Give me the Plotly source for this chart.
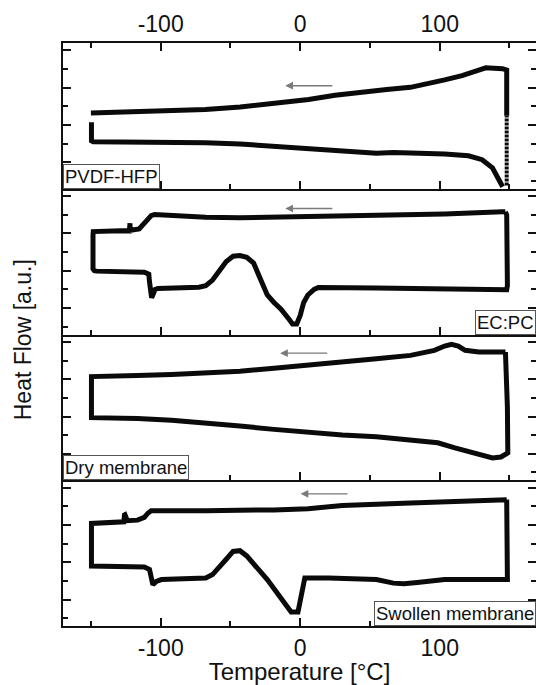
import plotly.graph_objects as go

# ---------------- data (Temperature in °C, heat flow in a.u.) ----------------
# Panel 1: PVDF-HFP
pvdf_cool_T = [148, 148, 145, 138, 133, 128, 116, 103.5, 91.3, 79, 62, 50, 40, 25, 6, -19, -43, -68, -92, -117, -150]
pvdf_cool_H = [3.5, 5.95, 6.02, 6.07, 6.07, 5.95, 5.65, 5.42, 5.2, 5.02, 4.9, 4.82, 4.75, 4.6, 4.37, 4.16, 3.97, 3.83, 3.76, 3.71, 3.64]
pvdf_heat_T = [-149.6, -149.6, -148.4, -116.6, -92.1, -67.7, -43.2, -18.8, 5.7, 30.2, 44.8, 54.6, 66.8, 79.1, 103.5, 120.6, 130.4, 137.8, 142.7, 145.1]
pvdf_heat_H = [3.15, 2.15, 2.10, 2.10, 2.08, 2.05, 1.98, 1.87, 1.77, 1.66, 1.58, 1.49, 1.52, 1.51, 1.45, 1.35, 1.14, 0.70, 0.09, -0.31]
pvdf_iso_T = [148, 148]
pvdf_iso_H = [-0.25, 3.5]

# Panel 2: EC:PC
ecpc_T = [147, 145, 103.5, 54.6, 5.7, -18.8, -43.2, -67.7, -92.1, -104.4, -106.8, -109.2, -111.7, -115.4,
          -121.8, -122.0, -122.4, -128.8, -141, -148.3, -148.5, -148.5, -147.5,
          -146, -111.7, -108.5, -108, -107.5, -106.5, -105, -104, -102, -72.6, -67.7, -62.8, -53, -48.1,
          -43.2, -38.3, -33.4, -28.5, -23.6, -18.8, -13.9, -8, -5.5, -2.5, 0, 2.5, 5.5, 10, 13,
          54.6, 103.5, 148, 148.5, 148, 147]
ecpc_H = [6.16, 6.16, 6.05, 5.96, 5.87, 5.84, 5.84, 5.87, 5.96, 6.02, 5.96, 5.75, 5.48, 5.24,
          5.17, 5.55, 5.14, 5.15, 5.12, 5.10, 4.9, 3.1, 3.0,
          2.98, 2.92, 2.82, 2.4, 1.75, 1.55, 1.8, 2.0, 2.05, 2.12, 2.2, 2.5, 3.5, 3.78,
          3.82, 3.72, 3.41, 2.6, 1.7, 1.3, 0.95, 0.4, 0.15, 0.15, 0.6, 1.3, 1.7, 2.0, 2.1,
          2.07, 2.01, 1.98, 2.2, 6.0, 6.16]

# Panel 3: Dry membrane
dry_T = [147.1, 128, 118.2, 113.3, 108.4, 103.5, 96.2, 79.1, 54.6, 30.2, 5.7, -18.8, -43.2, -67.7, -92.1, -116.6, -149.6,
         -149.6, -145.9, -116.6, -92.1, -67.7, -43.2, -18.8, 5.7, 30.2, 54.6, 79.1, 98.6, 110.9, 123.1, 137.8, 143.9,
         148.8, 148.5, 147.1]
dry_H = [6.46, 6.46, 6.55, 6.78, 6.87, 6.78, 6.55, 6.28, 6.10, 5.95, 5.77, 5.59, 5.43, 5.32, 5.25, 5.20, 5.14,
         2.94, 2.94, 2.89, 2.80, 2.67, 2.49, 2.31, 2.13, 2.01, 1.92, 1.77, 1.59, 1.32, 1.05, 0.78, 0.83,
         1.05, 3.5, 6.46]

# Panel 4: Swollen membrane
swol_T = [148, 128, 79.1, 30.2, 22.8, 8.1, 5.7, -18.8, -43.2, -67.7, -92.1, -106.8, -109.2, -111.7, -116.6,
          -123.9, -125.6, -125.9, -126.4, -141, -149.6, -149.6, -148.4,
          -111.7, -108, -106.8, -105.6, -103.1, -99.5, -67.7, -62.8, -53, -48.1, -43.2, -38.3, -23.6, -13.9,
          -6.5, -1.6, 0.8, 3.3, 20.4, 54.6, 66.8, 74.2, 84, 103.5, 148.5, 148.5, 148]
swol_H = [6.36, 6.32, 6.18, 6.05, 6.0, 5.85, 5.87, 5.81, 5.77, 5.77, 5.76, 5.76, 5.63, 5.41, 5.26,
          5.23, 5.55, 5.54, 5.17, 5.12, 5.08, 2.80, 2.80,
          2.74, 2.61, 1.97, 1.79, 1.97, 2.07, 2.16, 2.34, 3.16, 3.58, 3.62, 3.34, 2.07, 1.06,
          0.33, 0.33, 1.24, 2.16, 2.16, 2.07, 1.88, 1.85, 1.92, 2.07, 2.07, 4.0, 6.36]

panel_labels = ["PVDF-HFP", "EC:PC", "Dry membrane", "Swollen membrane"]
# arrows: (tail T, head T, level H)
arrow_tail_T = [24.1, 24.1, 20.4, 35.0]
arrow_head_T = [-10.7, -10.7, -14.4, 0.3]
arrow_H = [5.11, 6.34, 6.40, 6.67]

x_ticks = [-100, 0, 100]
x_tick_text = ["-100", "0", "100"]

# ---------------- figure ----------------
LINE = dict(color="#0a0a0a", width=5)
FONT = "Arial, Liberation Sans, Helvetica, sans-serif"
XR = [-170, 169]
YR = [-0.42, 7.4]
TK = "#111"

fig = go.Figure()
fig.add_trace(go.Scatter(x=pvdf_cool_T, y=pvdf_cool_H, mode="lines", line=LINE, xaxis="x", yaxis="y"))
fig.add_trace(go.Scatter(x=pvdf_heat_T, y=pvdf_heat_H, mode="lines", line=LINE, xaxis="x", yaxis="y"))
fig.add_trace(go.Scatter(x=pvdf_iso_T, y=pvdf_iso_H, mode="lines",
                         line=dict(color="#0a0a0a", width=4, dash="3px,1px"), xaxis="x", yaxis="y"))
fig.add_trace(go.Scatter(x=ecpc_T, y=ecpc_H, mode="lines", line=LINE, xaxis="x2", yaxis="y2"))
fig.add_trace(go.Scatter(x=dry_T, y=dry_H, mode="lines", line=LINE, xaxis="x3", yaxis="y3"))
fig.add_trace(go.Scatter(x=swol_T, y=swol_H, mode="lines", line=LINE, xaxis="x4", yaxis="y4"))

domains = [[0.75, 1.0], [0.5, 0.75], [0.25, 0.5], [0.0, 0.25]]
layout = dict(
    width=536, height=685, autosize=False,
    margin=dict(l=63, r=0, t=43, b=59),
    paper_bgcolor="white", plot_bgcolor="white",
    showlegend=False,
    font=dict(family=FONT, color="#111", size=22),
)

minor_x = dict(dtick=50, tick0=0, ticklen=5, ticks="inside", tickcolor=TK, tickwidth=1.5)
minor_y = dict(dtick=1, tick0=0, ticklen=5, ticks="inside", tickcolor=TK, tickwidth=1.5)
axis_common = dict(showgrid=False, zeroline=False, showline=True, linecolor=TK, linewidth=1.8,
                   ticks="inside", tickcolor=TK, tickwidth=1.5)
for i in range(4):
    n = "" if i == 0 else str(i + 1)
    xa = dict(axis_common, range=XR, anchor="y" + n, domain=[0, 1],
              tickvals=x_ticks, ticktext=x_tick_text, ticklen=8, minor=minor_x,
              showticklabels=(i == 3), tickfont=dict(size=23, family=FONT))
    if i == 3:
        xa["title"] = dict(text="Temperature [°C]", font=dict(size=24, family=FONT), standoff=2)
    layout["xaxis" + n] = xa
    layout["yaxis" + n] = dict(axis_common, range=YR, domain=domains[i], anchor="x" + n,
                               tick0=1, dtick=2, ticklen=8, showticklabels=False, minor=minor_y)
    # right-side ticks (frame line is beyond the visible page)
    layout["yaxis" + str(i + 5)] = dict(range=YR, overlaying="y" + n, side="right", anchor="x" + n,
                                        showline=False, showgrid=False, zeroline=False,
                                        ticks="inside", tickcolor=TK, tickwidth=1.5,
                                        tick0=1, dtick=2, ticklen=8, showticklabels=False,
                                        minor=minor_y)
# top axis with labels
layout["xaxis5"] = dict(axis_common, range=XR, overlaying="x", anchor="y", side="top",
                        tickvals=x_ticks, ticktext=x_tick_text, ticklen=8, minor=minor_x,
                        showticklabels=True, tickfont=dict(size=23, family=FONT))
fig.update_layout(**layout)
# dummy traces to activate overlay axes
fig.add_trace(go.Scatter(x=[None], y=[None], xaxis="x5", yaxis="y", showlegend=False))
for i in range(4):
    n = "" if i == 0 else str(i + 1)
    fig.add_trace(go.Scatter(x=[None], y=[None], xaxis="x" + n, yaxis="y" + str(i + 5), showlegend=False))

ann = []
label_pos = [(0, "left"), (1, "right"), (0, "left"), (1, "right")]
for i, lab in enumerate(panel_labels):
    n = "" if i == 0 else str(i + 1)
    xp, xanc = label_pos[i]
    ann.append(dict(text=lab, xref="x" + n + " domain", yref="y" + n + " domain", x=xp, y=0,
                    xanchor=xanc, yanchor="bottom", showarrow=False,
                    font=dict(size=18.5, family=FONT, color="#111"),
                    bgcolor="white", bordercolor="#555", borderwidth=1, borderpad=1))
    ann.append(dict(x=arrow_head_T[i], y=arrow_H[i], ax=arrow_tail_T[i], ay=arrow_H[i],
                    xref="x" + n, yref="y" + n, axref="x" + n, ayref="y" + n,
                    showarrow=True, arrowhead=2, arrowsize=1.1, arrowwidth=1.4,
                    arrowcolor="#7a7a7a", text=""))
ann.append(dict(text="Heat Flow [a.u.]", xref="paper", yref="paper", x=-0.0856, y=0.491,
                textangle=-90, showarrow=False, xanchor="center", yanchor="middle",
                font=dict(size=23, family=FONT, color="#111")))
fig.update_layout(annotations=ann)

fig.write_html("out.html")
